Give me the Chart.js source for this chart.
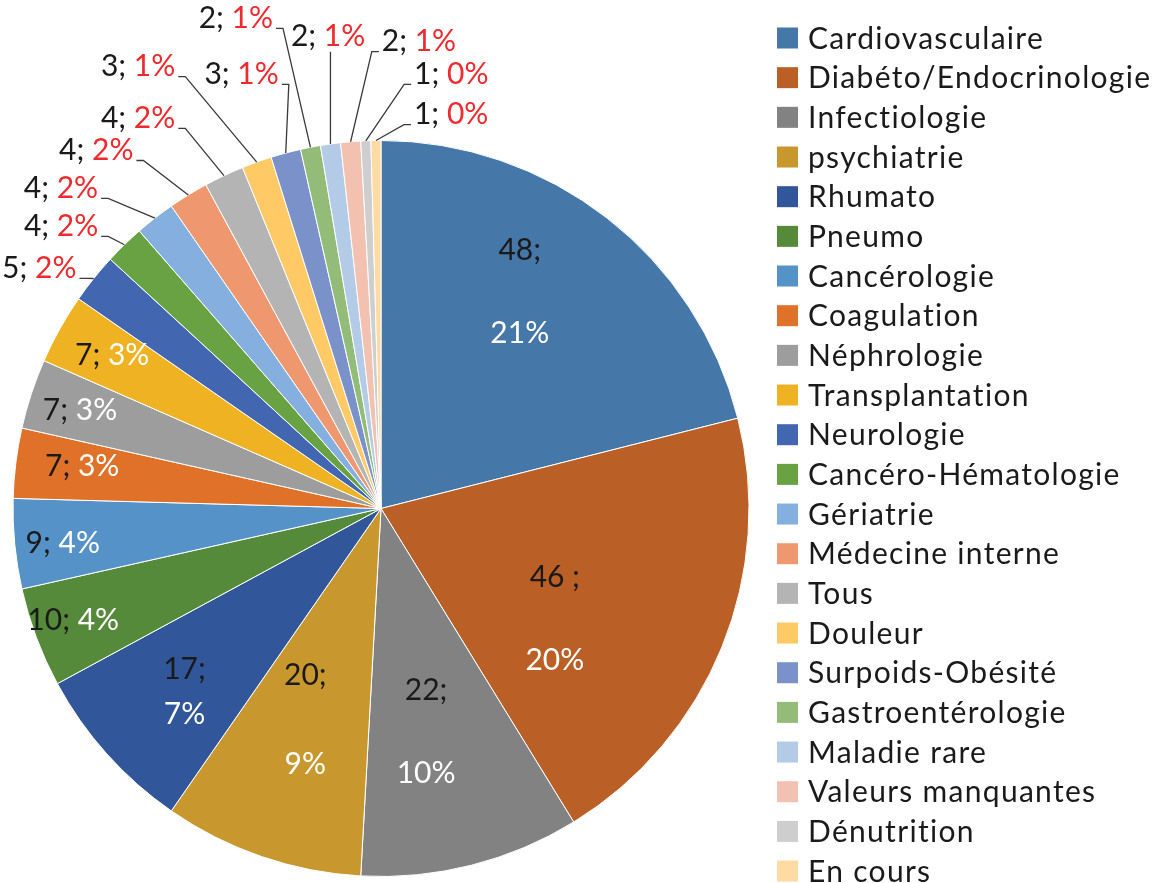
<!DOCTYPE html>
<html>
<head>
<meta charset="utf-8">
<script src="https://cdn.jsdelivr.net/npm/chart.js@4.4.1/dist/chart.umd.min.js"></script>
<style>
  html, body { margin: 0; padding: 0; background: #fff; }
  canvas { display: block; }
</style>
</head>
<body>
<canvas id="pieChart" width="1161" height="883"></canvas>
<script>
// categories, in legend order (clockwise from 12 o'clock)
const categories = [
    'Cardiovasculaire', 'Diabéto/Endocrinologie', 'Infectiologie', 'psychiatrie',
    'Rhumato', 'Pneumo', 'Cancérologie', 'Coagulation', 'Néphrologie',
    'Transplantation', 'Neurologie', 'Cancéro-Hématologie', 'Gériatrie',
    'Médecine interne', 'Tous', 'Douleur', 'Surpoids-Obésité',
    'Gastroentérologie', 'Maladie rare', 'Valeurs manquantes', 'Dénutrition', 'En cours'
];
const counts = [48, 46, 22, 20, 17, 10, 9, 7, 7, 7, 5, 4, 4, 4, 4, 3, 3, 2, 2, 2, 1, 1];

const sliceColors = [
    '#4677A9', '#BA5F26', '#828282', '#C8972E', '#31579A', '#568A3B',
    '#5592C8', '#E07128', '#9D9D9D', '#EEB223', '#4266B0', '#69A242',
    '#85AFDE', '#EF9870', '#B4B4B4', '#FFC965', '#7A91C9', '#94BC79',
    '#B4CBE8', '#F3C1AF', '#CECECE', '#FFDAA3'
];

// label placement: [angle deg clockwise from top, radius as fraction of pie radius, line gap (0 = one line)]
// entries with fraction > 1 sit outside the pie and get a leader line
const labelPlace = [
    [32.6, 0.70, 83], [122.5, 0.56, 83], [168.6, 0.62, 83], [199.7, 0.61, 89], [227, 0.73, 45],
    [250, 0.89, 0], [263.7, 0.87, 0], [278, 0.82, 0], [288, 0.86, 0], [299.6, 0.84, 0],
    [305.1, 1.135, 0], [311.4, 1.159, 0], [315, 1.23, 0], [321.5, 1.243, 0], [328.1, 1.249, 0],
    [331.2, 1.37, 0], [342.2, 1.239, 0], [343.5, 1.389, 0], [353.6, 1.29, 0], [4.65, 1.273, 0],
    [9.2, 1.195, 0], [10.1, 1.087, 0]
];

const FONT = '30px Lato';
const TEXT = '#1a1a1a';
const RED = '#EE2A2E';

function setFont(ctx, spacing) {
    ctx.font = FONT;
    ctx.letterSpacing = spacing; // non-zero also stops the "ti" ligature
    ctx.textBaseline = 'middle';
}

const sliceLabels = {
    id: 'sliceLabels',
    afterDatasetsDraw(chart) {
        const ctx = chart.ctx;
        const meta = chart.getDatasetMeta(0);
        const vals = chart.data.datasets[0].data;
        const total = vals.reduce((a, b) => a + b, 0);
        ctx.save();
        setFont(ctx, '0px');
        meta.data.forEach((arc, i) => {
            const p = arc.getProps(['x', 'y', 'outerRadius', 'startAngle', 'endAngle'], true);
            const R = p.outerRadius;
            const num = vals[i] + (i === 1 ? ' ;' : ';');
            const pct = Math.round(vals[i] / total * 100) + '%';
            const place = labelPlace[i];
            const a = place[0] * Math.PI / 180;
            const cx = p.x + Math.sin(a) * place[1] * R;
            const cy = p.y - Math.cos(a) * place[1] * R;

            if (place[2] > 0) {
                ctx.textAlign = 'center';
                ctx.fillStyle = TEXT;
                ctx.fillText(num, cx, cy - place[2] / 2);
                ctx.fillStyle = '#fff';
                ctx.fillText(pct, cx, cy + place[2] / 2);
                return;
            }

            const outside = place[1] > 1;
            const w1 = ctx.measureText(num + ' ').width;
            const w2 = ctx.measureText(pct).width;
            const left = cx - (w1 + w2) / 2;
            const right = left + w1 + w2;
            ctx.textAlign = 'left';
            ctx.fillStyle = TEXT;
            ctx.fillText(num + ' ', left, cy);
            ctx.fillStyle = outside ? RED : '#fff';
            ctx.fillText(pct, left + w1, cy);

            if (outside) {
                // leader line to the middle of the slice edge
                const mid = (p.startAngle + p.endAngle) / 2;
                const px = p.x + Math.cos(mid) * R;
                const py = p.y + Math.sin(mid) * R;
                ctx.strokeStyle = '#3a3a3a';
                ctx.lineWidth = 1.3;
                ctx.beginPath();
                if (px >= left && px <= right) {
                    ctx.moveTo(px, cy + 15);
                } else if (px > right) {
                    ctx.moveTo(right + 3, cy + 10);
                    ctx.lineTo(right + 10, cy + 10);
                } else {
                    ctx.moveTo(left - 3, cy + 10);
                    ctx.lineTo(left - 10, cy + 10);
                }
                ctx.lineTo(px, py);
                ctx.stroke();
            }
        });
        ctx.restore();
    }
};

// legend drawn by hand so that all 22 rows stay in one column
const sideLegend = {
    id: 'sideLegend',
    afterDraw(chart) {
        const ctx = chart.ctx;
        const ds = chart.data.datasets[0];
        ctx.save();
        setFont(ctx, '1.3px');
        ctx.textAlign = 'left';
        chart.data.labels.forEach((lab, i) => {
            const yy = 38 + i * 39.67;
            ctx.fillStyle = ds.backgroundColor[i];
            ctx.fillRect(777, yy - 10.5, 21, 21);
            ctx.fillStyle = TEXT;
            ctx.fillText(lab, 808, yy + 1);
        });
        ctx.restore();
    }
};

new Chart(document.getElementById('pieChart').getContext('2d'), {
    type: 'pie',
    data: {
        labels: categories,
        datasets: [{
            data: counts,
            backgroundColor: sliceColors,
            borderColor: '#ffffff',
            borderWidth: 1
        }]
    },
    options: {
        responsive: false,
        animation: false,
        devicePixelRatio: 1,
        layout: { padding: { left: 12, top: 140, right: 411, bottom: 6 } },
        plugins: {
            legend: { display: false },
            tooltip: { enabled: false }
        }
    },
    plugins: [sliceLabels, sideLegend]
});
</script>
</body>
</html>
